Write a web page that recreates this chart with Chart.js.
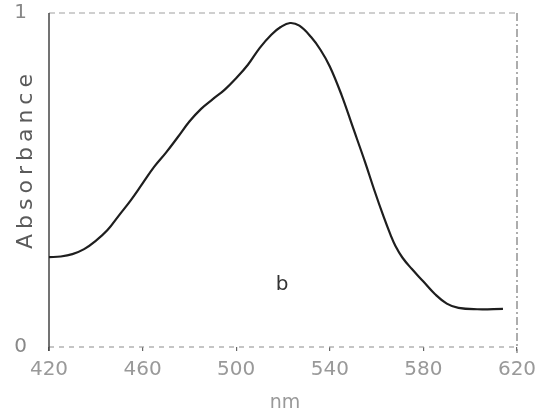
<!DOCTYPE html>
<html>
<head>
<meta charset="utf-8">
<script src="https://cdn.jsdelivr.net/npm/chart.js@4"></script>
<style>
html,body{margin:0;padding:0;background:#fff;}
#wrap{width:539px;height:415px;}
</style>
</head>
<body>
<div id="wrap"><canvas id="c" width="539" height="415"></canvas></div>
<script>
const wavelengths = [420, 425, 430, 435, 440, 445, 450, 455, 460, 465, 470, 475, 480, 485, 490, 495, 500, 505, 510, 515, 519, 523, 527, 532, 536, 540, 545, 550, 555, 559, 563, 566, 568, 571, 575, 580, 585, 590, 595, 603, 614];
const absorbance  = [0.269, 0.271, 0.278, 0.293, 0.318, 0.350, 0.395, 0.440, 0.490, 0.540, 0.582, 0.628, 0.675, 0.713, 0.742, 0.770, 0.805, 0.845, 0.895, 0.935, 0.958, 0.970, 0.962, 0.928, 0.890, 0.840, 0.755, 0.655, 0.555, 0.470, 0.390, 0.335, 0.303, 0.268, 0.234, 0.196, 0.158, 0.130, 0.117, 0.113, 0.114];
const xTicks = [420, 460, 500, 540, 580, 620];
const yTicks = [0, 1];

const points = wavelengths.map((w, i) => ({x: w, y: absorbance[i]}));

const decor = {
  id: 'decor',
  beforeDatasetsDraw(chart) {
    const {ctx, chartArea: a} = chart;
    ctx.save();
    ctx.strokeStyle = '#a0a0a0';
    ctx.lineWidth = 1.2;
    ctx.setLineDash([6, 4]);
    ctx.beginPath(); ctx.moveTo(a.left, a.top); ctx.lineTo(a.right, a.top); ctx.stroke();
    ctx.setLineDash([5, 5]);
    ctx.beginPath(); ctx.moveTo(a.left, a.bottom); ctx.lineTo(a.right, a.bottom); ctx.stroke();
    ctx.strokeStyle = '#777';
    ctx.setLineDash([8, 3, 2, 3]);
    ctx.beginPath(); ctx.moveTo(a.right, a.top); ctx.lineTo(a.right, a.bottom + 6); ctx.stroke();
    ctx.setLineDash([]);
    ctx.strokeStyle = '#444';
    ctx.lineWidth = 1.5;
    ctx.beginPath(); ctx.moveTo(a.left, a.top); ctx.lineTo(a.left, a.bottom + 4); ctx.stroke();
    ctx.restore();
  },
  afterDraw(chart) {
    const {ctx} = chart;
    ctx.save();
    ctx.fillStyle = '#5a5a5a';
    ctx.font = '22px "DejaVu Sans"';
    ctx.letterSpacing = '5px';
    ctx.textAlign = 'center';
    ctx.textBaseline = 'middle';
    ctx.translate(26, 159);
    ctx.rotate(-Math.PI / 2);
    ctx.fillText('Absorbance', 0, 0);
    ctx.restore();

    ctx.save();
    ctx.fillStyle = '#333';
    ctx.font = '20px "DejaVu Sans"';
    ctx.textAlign = 'center';
    ctx.textBaseline = 'middle';
    ctx.fillText('b', 282, 285);
    ctx.fillStyle = '#999';
    ctx.font = '19px "DejaVu Sans"';
    ctx.fillText('nm', 285, 403);
    ctx.restore();
  }
};

new Chart(document.getElementById('c'), {
  type: 'line',
  data: {
    datasets: [{
      data: points,
      borderColor: '#1e1e1e',
      borderWidth: 2.2,
      pointRadius: 0,
      fill: false,
      tension: 0.4
    }]
  },
  options: {
    responsive: false,
    animation: false,
    events: [],
    layout: {padding: {left: 0, right: 22, top: 13, bottom: 0}},
    plugins: {legend: {display: false}, tooltip: {enabled: false}},
    scales: {
      x: {
        type: 'linear',
        min: 420, max: 620,
        afterBuildTicks(s) { s.ticks = xTicks.map(v => ({value: v})); },
        afterFit(s) { s.height = 68; s.paddingLeft = 0; s.paddingRight = 0; },
        border: {display: false},
        grid: {display: true, drawOnChartArea: false, drawTicks: true, tickLength: 4, color: '#666', lineWidth: 1.2},
        ticks: {color: '#999', font: {family: 'DejaVu Sans', size: 20}, padding: 7, maxRotation: 0}
      },
      y: {
        min: 0, max: 1,
        afterBuildTicks(s) { s.ticks = yTicks.map(v => ({value: v})); },
        afterFit(s) { s.width = 49; s.paddingTop = 0; s.paddingBottom = 0; },
        border: {display: false},
        grid: {display: false},
        ticks: {color: '#888', font: {family: 'DejaVu Sans', size: 20}, padding: 14}
      }
    }
  },
  plugins: [decor]
});
</script>
</body>
</html>
